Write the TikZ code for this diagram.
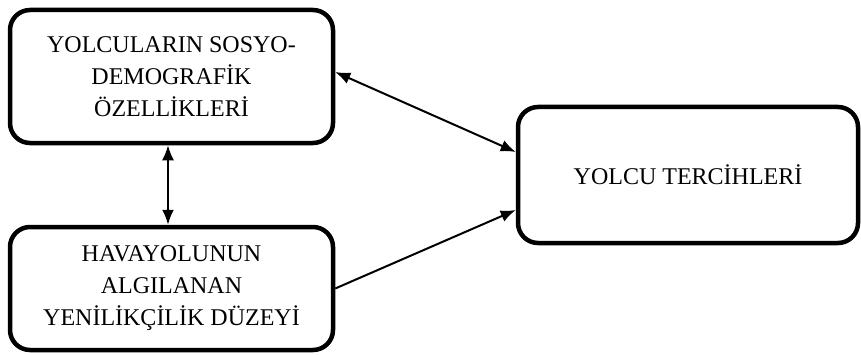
\documentclass[tikz,border=0pt]{standalone}
\usepackage{fontspec}
\setmainfont{Liberation Serif}
\usetikzlibrary{arrows.meta}
\begin{document}
\begin{tikzpicture}[x=1pt,y=1pt,
  box/.style={draw, line width=4.5pt, rounded corners=20pt, align=center,
    font=\fontsize{24}{32}\selectfont, inner sep=0pt},
  conn/.style={line width=2pt, -{Latex[length=15pt,width=12pt]}},
  dconn/.style={line width=2pt, {Latex[length=15pt,width=12pt]}-{Latex[length=15pt,width=12pt]}}]
\useasboundingbox (0,0) rectangle (861,354);
\node[box, minimum width=323pt, minimum height=133pt] (A) at (171.5,277.5)
  {YOLCULARIN SOSYO-\\DEMOGRAFİK\\ÖZELLİKLERİ};
\node[box, minimum width=323pt, minimum height=123pt] (B) at (171.5,65.5)
  {HAVAYOLUNUN\\ALGILANAN\\YENİLİKÇİLİK DÜZEYİ};
\node[box, minimum width=340pt, minimum height=136pt] (C) at (688,179)
  {YOLCU TERCİHLERİ};
\draw[dconn] ([xshift=-3.5pt]A.south) -- ([xshift=-3.5pt]B.north);
\draw[dconn] ([yshift=4.5pt]A.east) -- ([yshift=23pt]C.west);
\draw[conn] (B.east) -- ([yshift=-35pt]C.west);
\end{tikzpicture}
\end{document}
